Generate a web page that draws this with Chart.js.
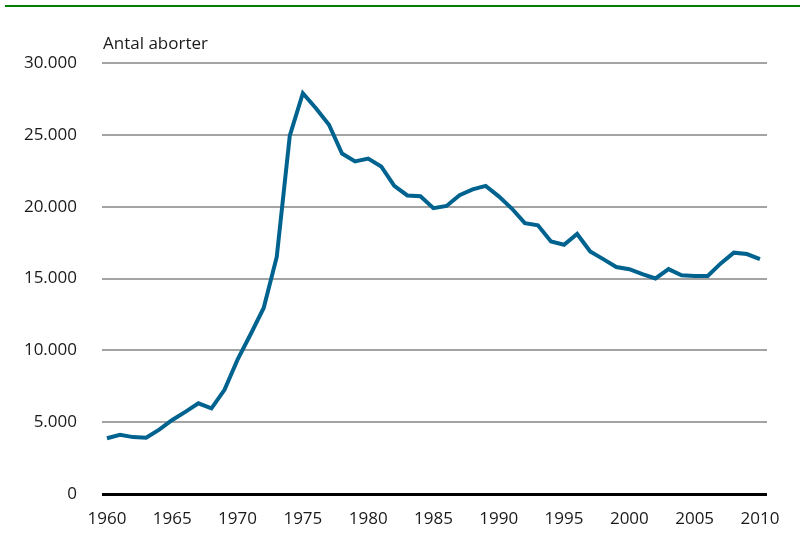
<!DOCTYPE html>
<html lang="da">

<head>
    <meta charset="UTF-8">
    <title>Antal aborter</title>
    <script src="https://cdn.jsdelivr.net/npm/chart.js@4"></script>
    <style>
        html, body { margin: 0; padding: 0; background: #fff; }
        .wrap { position: relative; width: 806px; height: 534px; }
    </style>
</head>

<body>
    <div class="wrap">
        <canvas id="chart" width="806" height="534"></canvas>
    </div>

    <script>
        // Data
        const years = [1960, 1961, 1962, 1963, 1964, 1965, 1966, 1967, 1968, 1969,
            1970, 1971, 1972, 1973, 1974, 1975, 1976, 1977, 1978, 1979,
            1980, 1981, 1982, 1983, 1984, 1985, 1986, 1987, 1988, 1989,
            1990, 1991, 1992, 1993, 1994, 1995, 1996, 1997, 1998, 1999,
            2000, 2001, 2002, 2003, 2004, 2005, 2006, 2007, 2008, 2009, 2010];
        const abortions = [3880, 4120, 3960, 3920, 4480, 5150, 5720, 6310, 5960, 7250,
            9350, 11120, 12950, 16500, 24950, 27900, 26850, 25700, 23700, 23150,
            23350, 22800, 21450, 20780, 20730, 19900, 20050, 20800, 21200, 21450,
            20720, 19870, 18850, 18700, 17580, 17350, 18100, 16880, 16350, 15800,
            15650, 15300, 15000, 15650, 15220, 15170, 15170, 16050, 16800, 16700, 16350];
        const xTicks = [1960, 1965, 1970, 1975, 1980, 1985, 1990, 1995, 2000, 2005, 2010];
        const yTicks = [0, 5000, 10000, 15000, 20000, 25000, 30000];
        const unitLabel = "Antal aborter";

        const fontFamily = "'Open Sans', 'DejaVu Sans', sans-serif";

        function thousands(v) {
            return String(v).replace(/\B(?=(\d{3})+(?!\d))/g, ".");
        }

        // top green rule and the unit label above the plot
        const decorations = {
            id: "decorations",
            afterDraw(chart) {
                const c = chart.ctx;
                c.save();
                c.strokeStyle = "#008000";
                c.lineWidth = 2;
                c.beginPath();
                c.moveTo(5, 6);
                c.lineTo(800, 6);
                c.stroke();
                c.fillStyle = "#1a1a1a";
                c.font = "17px " + fontFamily;
                c.textBaseline = "alphabetic";
                c.fillText(unitLabel, chart.chartArea.left + 1, 49);
                c.restore();
            }
        };

        const ctx = document.getElementById("chart").getContext("2d");
        const chart = new Chart(ctx, {
            type: "line",
            data: {
                datasets: [{
                    data: years.map((y, i) => ({ x: y, y: abortions[i] })),
                    borderColor: "#00638f",
                    borderWidth: 4,
                    pointRadius: 0,
                    tension: 0,
                    fill: false
                }]
            },
            options: {
                responsive: false,
                animation: false,
                layout: { padding: { top: 63, right: 39, left: 0, bottom: 0 } },
                plugins: {
                    legend: { display: false },
                    tooltip: { enabled: false }
                },
                scales: {
                    x: {
                        type: "linear",
                        min: 1959.62,
                        max: 2010.54,
                        afterBuildTicks: (s) => { s.ticks = xTicks.map(v => ({ value: v })); },
                        afterFit: (s) => { s.height = 40; },
                        grid: { display: false, drawTicks: false },
                        border: { display: false },
                        ticks: {
                            color: "#1a1a1a",
                            font: { family: fontFamily, size: 17 },
                            padding: 15,
                            maxRotation: 0,
                            autoSkip: false,
                            callback: (v) => String(v)
                        }
                    },
                    y: {
                        min: 0,
                        max: 30000,
                        afterBuildTicks: (s) => { s.ticks = yTicks.map(v => ({ value: v })); },
                        afterFit: (s) => { s.width = 102; },
                        grid: {
                            drawTicks: false,
                            color: (c) => c.tick && c.tick.value === 0 ? "#000000" : "#a3a3a3",
                            lineWidth: (c) => c.tick && c.tick.value === 0 ? 3 : 2
                        },
                        border: { display: false },
                        ticks: {
                            color: "#1a1a1a",
                            font: { family: fontFamily, size: 17 },
                            padding: 25,
                            callback: (v) => thousands(v)
                        }
                    }
                }
            },
            plugins: [decorations]
        });
    </script>
</body>

</html>
